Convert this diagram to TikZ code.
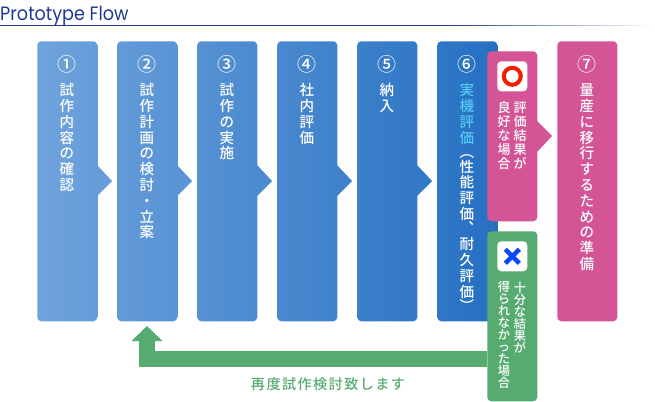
\documentclass[tikz,border=0pt]{standalone}
\usepackage{fontspec}
\usetikzlibrary{arrows.meta}
\newfontfamily\jpn{Noto Sans CJK JP Medium}
\newfontfamily\jp[LetterSpace=10]{Noto Sans CJK JP Medium}
\setmainfont{Poppins}
\definecolor{blueL}{HTML}{6FA3DC}
\definecolor{blueR}{HTML}{2670C2}
\definecolor{pinkbox}{HTML}{D35596}
\definecolor{greenbox}{HTML}{56AB70}
\definecolor{titleblue}{HTML}{1F3A93}
\definecolor{cyantext}{HTML}{55C8F5}
\definecolor{redring}{HTML}{F01E00}
\definecolor{bluecross}{HTML}{0A45FF}
\makeatletter
% stacked (tategaki) text: every character on its own line
\newcommand{\vchars}[1]{\@tfor\vc@x:=#1\do{\hbox to 1em{\hss\vc@x\hss}}}
\makeatother
\newcommand{\vcolumn}[2]{\vtop{\baselineskip=#1\lineskiplimit=-100pt\hbox{}#2}}
\tikzset{
  x=0.75pt,y=-0.75pt,
  flowbox/.style={rounded corners=3pt,minimum width=45pt,minimum height=210pt,inner sep=0pt,anchor=north west,draw=none},
  sidebox/.style={rounded corners=3pt,minimum width=37.5pt,minimum height=127.5pt,inner sep=0pt,anchor=north west,draw=none},
  numtext/.style={text=white,inner sep=0pt,font=\fontsize{14.2pt}{16pt}\jpn},
  vtext/.style={anchor=north,text=white,inner sep=0pt,font=\fontsize{10.9pt}{12pt}\jpn},
  oktext/.style={anchor=north,text=white,inner sep=0pt,font=\fontsize{9.75pt}{12pt}\jpn},
  ngtext/.style={anchor=north,text=white,inner sep=0pt,font=\fontsize{9.2pt}{12pt}\jpn},
  iconbox/.style={fill=white,rounded corners=3pt,minimum width=22.5pt,minimum height=22.5pt,inner sep=0pt,anchor=north west},
}
\newcommand{\flowstep}[5]{%
  \node[flowbox,left color=blueR!#3!blueL,right color=blueR!#4!blueL] (#1) at (#2,41) {};
  \fill[blueR!#4!blueL] ({#2+60},165) -- ({#2+75},181) -- ({#2+60},196) -- cycle;
  \node[numtext] (#1n) at ({#2+30},64) {#5};
}
\newcommand{\mainpitch}{11.85pt}
\begin{document}
\begin{tikzpicture}
\useasboundingbox (0,0) rectangle (655,401);
\node[anchor=base west,inner sep=0pt,text=titleblue,xscale=0.91,font=\fontsize{14.5pt}{16pt}\selectfont] (title) at (0,20) {Prototype Flow};
\fill[titleblue] (0,25) rectangle (443,26);
\foreach \i in {0,...,19}{
  \pgfmathtruncatemacro{\p}{100-5*\i}
  \fill[titleblue!\p!white] ({443+10.35*\i},25) rectangle ({443+10.35*(\i+1)},26);
}

\flowstep{s1}{37}{0}{13}{①}
\flowstep{s2}{117}{17}{30}{②}
\flowstep{s3}{197}{35}{48}{③}
\flowstep{s4}{277}{52}{65}{④}
\flowstep{s5}{357}{70}{83}{⑤}
\flowstep{s6}{437}{87}{100}{⑥}
\node[flowbox,fill=pinkbox] (s7) at (557,41) {};
\node[numtext] (s7n) at (587,64) {⑦};

\node[vtext] (t1) at (67,79.7) {\vcolumn{\mainpitch}{\vchars{試作内容の確認}}};
\node[vtext] (t2) at (147,79.7) {\vcolumn{\mainpitch}{\vchars{試作計画の検討・立案}}};
\node[vtext] (t3) at (227,79.7) {\vcolumn{\mainpitch}{\vchars{試作の実施}}};
\node[vtext] (t4) at (307,79.7) {\vcolumn{\mainpitch}{\vchars{社内評価}}};
\node[vtext] (t5) at (387,79.7) {\vcolumn{\mainpitch}{\vchars{納入}}};
\node[vtext] (t6) at (467,79.7) {\vcolumn{\mainpitch}{\color{cyantext}\vchars{実機評価}\color{white}\vskip-1pt\vchars{︵}\vskip-1pt\vchars{性能評価}\vskip-1.5pt\vchars{︑}\vskip0.5pt\vchars{耐久評価}\vskip-1pt\vchars{︶}}};
\node[vtext] (t7) at (587,79.7) {\vcolumn{\mainpitch}{\vchars{量産に移行するための準備}}};

% pink result box
\node[sidebox,fill=pinkbox] (ok) at (487,51) {};
\fill[pinkbox] (537,121) -- (552,136) -- (537,152) -- cycle;
\node[iconbox] (okicon) at (497,61) {};
\draw[redring,line width=3pt] (okicon.center) circle[radius=8.5];
\node[oktext] (oktexta) at (520,98) {\vcolumn{10.5pt}{\vchars{評価結果が}}};
\node[oktext] (oktextb) at (504,98) {\vcolumn{10.5pt}{\vchars{良好な場合}}};

% green result box
\node[sidebox,fill=greenbox] (ng) at (487,231) {};
\node[iconbox] (ngicon) at (497,241) {};
\draw[bluecross,line width=3.4pt] ([shift={(-7,-7)}]ngicon.center) -- ([shift={(7,7)}]ngicon.center);
\draw[bluecross,line width=3.4pt] ([shift={(-7,7)}]ngicon.center) -- ([shift={(7,-7)}]ngicon.center);
\node[ngtext] (ngtexta) at (520,280) {\vcolumn{9pt}{\vchars{十分な結果が}}};
\node[ngtext] (ngtextb) at (504,279) {\vcolumn{9pt}{\vchars{得られなかった場合}}};

% return arrow
\coordinate (backstart) at (ng.west |- 0,359);
\coordinate (backend) at (147,326);
\draw[greenbox,line width=12pt,-{Triangle[width=22.5pt,length=11.25pt]}] (backstart) -| (backend);
\node[inner sep=0pt,text=greenbox,font=\fontsize{10.6pt}{12pt}\jp] (backlabel) at (328,384) {再度試作検討致します};
\end{tikzpicture}
\end{document}
